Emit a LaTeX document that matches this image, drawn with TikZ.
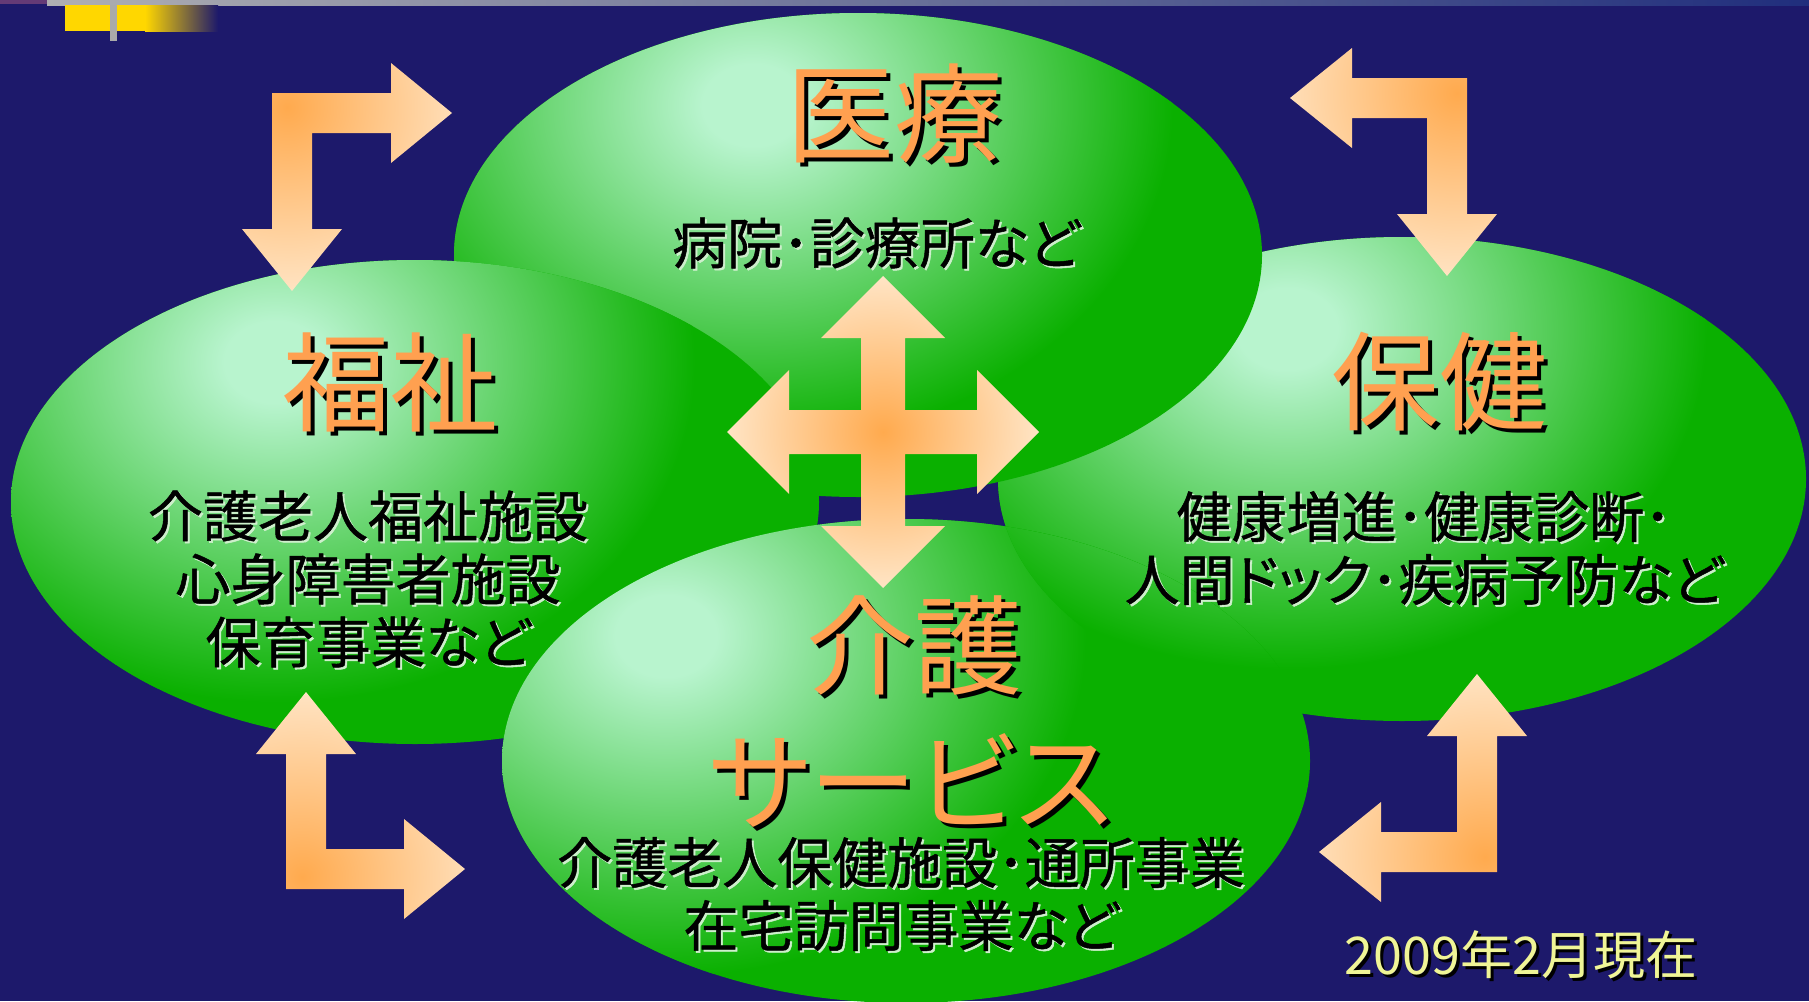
\documentclass[tikz,border=0pt]{standalone}
\usepackage{fontspec}
\newfontfamily\jp{Noto Sans CJK JP}[RawFeature=+palt]
\newfontfamily\jpsub{Noto Sans CJK JP}[RawFeature=+palt, FakeBold=0.9]
\definecolor{navy}{RGB}{29,25,107}
\definecolor{mint}{RGB}{184,244,206}
\definecolor{grn}{RGB}{10,176,0}
\definecolor{orng}{RGB}{255,170,78}
\definecolor{pale}{RGB}{255,232,204}
\definecolor{ttlc}{RGB}{255,160,80}
\definecolor{yel}{RGB}{240,245,150}
\definecolor{gold}{RGB}{255,215,0}
\definecolor{barL}{RGB}{175,175,178}
\definecolor{barR}{RGB}{32,46,125}
\definecolor{purp}{RGB}{100,58,118}
\definecolor{gbar}{RGB}{170,170,170}
\pgfdeclareradialshading{ellsh}{\pgfpointorigin}{color(0bp)=(mint); color(3bp)=(mint); color(25bp)=(grn); color(50bp)=(grn)}
\newcommand\greenoval[4]{% center x, center y, spot dx, spot dy
  \fill[grn] (#1,#2) ellipse [x radius=404, y radius=242];
  \begin{scope}
    \clip (#1,#2) ellipse [x radius=404, y radius=242];
    \shade[shading=ellsh] ([shift={(#3,#4)}]#1,#2) ellipse [x radius=420, y radius=340];
  \end{scope}}
\begin{document}
\begin{tikzpicture}[x=0.5pt,y=-0.5pt,
  ttl/.style={font=\jp\fontsize{54}{60}\selectfont, text=ttlc, inner sep=0pt},
  ttlsh/.style={ttl, text=black},
  sub/.style={font=\jpsub\fontsize{27.5}{31.5}\selectfont, text=black, inner sep=0pt, align=center},
  subsh/.style={sub, text=white!80!grn},
  datetxt/.style={font=\jp\fontsize{26}{30}\selectfont, text=yel, inner sep=0pt},
  datesh/.style={datetxt, text=black}]
\useasboundingbox (0,0) rectangle (1809,1001);
\fill[navy] (0,0) rectangle (1809,1001);
% top decorations
\shade[left color=barL, right color=barR] (47,0) rectangle (1809,5);
\fill[purp] (0,0) rectangle (47,4);
\fill[gold] (65,5) rectangle (146,31);
\shade[left color=gold, right color=navy] (145,5) rectangle (218,31);
\fill[gbar] (110,5) rectangle (117,41);
% ellipses
\greenoval{1402}{479}{-115}{-150}
\greenoval{858}{255}{-105}{-150}
\greenoval{415}{502}{-140}{-140}
\greenoval{906}{761}{-240}{-125}
\begin{scope}
  \clip (906,761) ellipse [x radius=404, y radius=242];
  \greenoval{1402}{479}{-115}{-150}
\end{scope}
% L arrows
\begin{scope}
  \clip (272,93) -- (391,93) -- (391,63) -- (452,113) -- (391,163) -- (391,133) -- (312,133) -- (312,229) -- (342,229) -- (292,291) -- (242,229) -- (272,229) -- cycle;
  \shade[inner color=orng, outer color=pale] (287,107) circle (200);
\end{scope}
\begin{scope}
  \clip (286,889) -- (286,754) -- (256,754) -- (306,692) -- (356,754) -- (326,754) -- (326,849) -- (404,849) -- (404,819) -- (465,869) -- (404,919) -- (404,889) -- cycle;
  \shade[inner color=orng, outer color=pale] (302,877) circle (200);
\end{scope}
\begin{scope}
  \clip (1497,872) -- (1497,736) -- (1527,736) -- (1477,674) -- (1427,736) -- (1457,736) -- (1457,832) -- (1381,832) -- (1381,802) -- (1319,852) -- (1381,902) -- (1381,872) -- cycle;
  \shade[inner color=orng, outer color=pale] (1485,857) circle (200);
\end{scope}
\begin{scope}
  \clip (1467,78) -- (1467,214) -- (1497,214) -- (1447,276) -- (1397,214) -- (1427,214) -- (1427,118) -- (1352,118) -- (1352,148) -- (1290,98) -- (1352,48) -- (1352,78) -- cycle;
  \shade[inner color=orng, outer color=pale] (1457,93) circle (200);
\end{scope}
% central cross
\begin{scope}[shift={(883,432)}]
  \clip (0,-156) -- (62,-94) -- (22,-94) -- (22,-22) -- (94,-22) -- (94,-62) -- (156,0) -- (94,62) -- (94,22) -- (22,22) -- (22,94) -- (62,94) -- (0,156) -- (-62,94) -- (-22,94) -- (-22,22) -- (-94,22) -- (-94,62) -- (-156,0) -- (-94,-62) -- (-94,-22) -- (-22,-22) -- (-22,-94) -- (-62,-94) -- cycle;
  \shade[inner color=orng, outer color=pale] (0,0) circle (165);
\end{scope}
% titles
\node[ttlsh] (iryoS) at (898,118) {医療};
\node[ttl] (iryo) at (894,114) {医療};
\node[ttlsh] (fukushiS) at (394,386) {福祉};
\node[ttl] (fukushi) at (390,382) {福祉};
\node[ttlsh] (hokenS) at (1443,386) {保健};
\node[ttl] (hoken) at (1439,382) {保健};
\node[ttlsh] (kaigoS) at (918,650) {介護};
\node[ttl] (kaigo) at (914,646) {介護};
\node[ttlsh] (serviceS) at (915,784) {サービス};
\node[ttl] (service) at (911,780) {サービス};
% sub texts
\node[subsh] (iryoSubS) at (878,245) {病院･診療所など};
\node[sub] (iryoSub) at (876,243) {病院･診療所など};
\node[subsh] (fukushiSubS) at (370,581) {介護老人福祉施設\\心身障害者施設\\保育事業など};
\node[sub] (fukushiSub) at (368,579) {介護老人福祉施設\\心身障害者施設\\保育事業など};
\node[subsh] (hokenSubS) at (1426,550) {健康増進･健康診断･\\人間ドック･疾病予防など};
\node[sub] (hokenSub) at (1424,548) {健康増進･健康診断･\\人間ドック･疾病予防など};
\node[subsh] (kaigoSubS) at (903,896) {介護老人保健施設･通所事業\\在宅訪問事業など};
\node[sub] (kaigoSub) at (901,894) {介護老人保健施設･通所事業\\在宅訪問事業など};
% date
\node[datesh] (dateS) at (1524,958) {2009年2月現在};
\node[datetxt] (date) at (1521,955) {2009年2月現在};
\end{tikzpicture}
\end{document}
